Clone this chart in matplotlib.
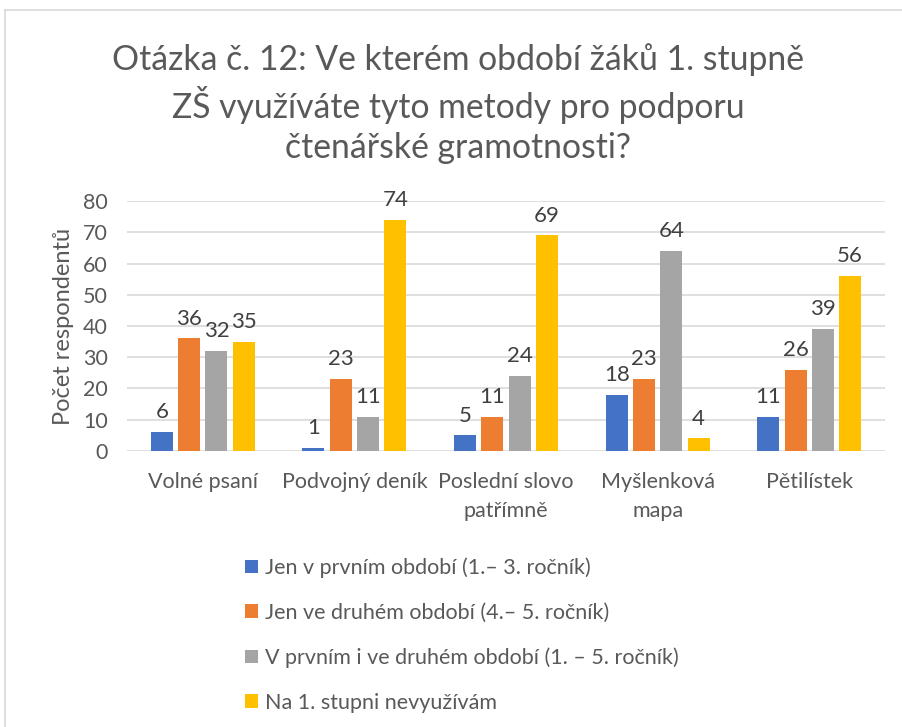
import matplotlib
matplotlib.use("Agg")
import matplotlib.pyplot as plt
from matplotlib.lines import Line2D
from matplotlib.patches import Patch
import numpy as np

plt.rcParams['font.family'] = ['Lato', 'DejaVu Sans']

categories = ["Volné psaní", "Podvojný deník", "Poslední slovo\npatřímně",
              "Myšlenková\nmapa", "Pětilístek"]
series_names = ["Jen v prvním období (1.– 3. ročník)",
                "Jen ve druhém období (4.– 5. ročník)",
                "V prvním i ve druhém období (1. – 5. ročník)",
                "Na 1. stupni nevyužívám"]
values = [
    [6, 1, 5, 18, 11],
    [36, 23, 11, 23, 26],
    [32, 11, 24, 64, 39],
    [35, 74, 69, 4, 56],
]
colors = ["#4472C4", "#ED7D31", "#A5A5A5", "#FFC000"]
text_col = "#595959"

fig = plt.figure(figsize=(9.02, 7.27), dpi=100)
ax = fig.add_axes([0.1408, 0.3797, 0.8404, 0.3438])

x = np.arange(len(categories))
width = 0.145
step = 0.18
for i, (vals, col) in enumerate(zip(values, colors)):
    pos = x + (i - 1.5) * step
    bars = ax.bar(pos, vals, width=width, color=col, zorder=3)
    for b, v in zip(bars, vals):
        ax.annotate(str(v), (b.get_x() + b.get_width() / 2, v),
                    xytext=(0, 7), textcoords="offset points",
                    ha="center", va="bottom", fontsize=16, color="#404040")

ax.set_xlim(-0.5, len(categories) - 0.5)
ax.set_ylim(0, 80)
ax.set_yticks(range(0, 81, 10))
ax.set_xticks(x)
ax.set_xticklabels(categories, fontsize=15.5, color=text_col, linespacing=1.6)
ax.tick_params(axis="y", labelsize=15.5, labelcolor=text_col, length=0, pad=14)
ax.tick_params(axis="x", length=0, pad=15)
ax.grid(axis="y", color="#D9D9D9", linewidth=1.2, zorder=0)
for s in ax.spines.values():
    s.set_visible(False)
ax.set_ylabel("Počet respondentů", fontsize=17, color=text_col, labelpad=6)

fig.suptitle("Otázka č. 12: Ve kterém období žáků 1. stupně\n"
             "ZŠ využíváte tyto metody pro podporu\n"
             "čtenářské gramotnosti?",
             x=0.508, y=0.94, fontsize=24.3, color=text_col,
             linespacing=1.3)

handles = [Patch(facecolor=c) for c in colors]
fig.legend(handles, series_names, loc="upper left",
           bbox_to_anchor=(0.25, 0.26), frameon=False, fontsize=15.5,
           labelcolor=text_col, handlelength=0.6, handleheight=0.6,
           handletextpad=0.35, labelspacing=1.15)

# chart border (partly cropped)
fig.add_artist(Line2D([0.006, 0.006], [0.0, 0.986], color="#D9D9D9", lw=1.2))
fig.add_artist(Line2D([0.006, 1.0], [0.986, 0.986], color="#D9D9D9", lw=1.2))

fig.savefig("out.png", dpi=100)
